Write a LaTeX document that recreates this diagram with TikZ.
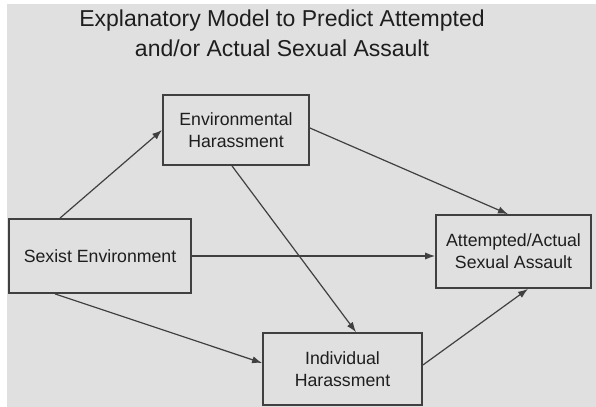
\documentclass[tikz,border=0pt]{standalone}
\usepackage{fontspec}
\setmainfont{Liberation Sans}
\usetikzlibrary{arrows.meta}

\definecolor{panelgray}{HTML}{E0E0E0}
\definecolor{linegray}{HTML}{404040}
\definecolor{textgray}{HTML}{1E1E1E}

\tikzset{
    modelbox/.style={draw=linegray, line width=0.9pt, fill=panelgray, text=textgray,
        align=center, inner sep=0pt, font=\fontsize{8.85}{11}\selectfont},
    path/.style={draw=linegray, line width=0.6pt, -{Latex[length=5pt,width=3.6pt]}}
}

\begin{document}
\begin{tikzpicture}[x=0.5pt, y=-0.5pt]
    \useasboundingbox (0,0) rectangle (596,407);
    % Background
    \fill[white] (0,0) rectangle (596,407);
    \fill[panelgray] (7,4) rectangle (596,407);

    % Title
    \node[text=textgray, align=center, font=\fontsize{11.5}{15}\selectfont] (title) at (282,33)
        {Explanatory Model to Predict Attempted\\and/or Actual Sexual Assault};

    % Boxes
    \node[modelbox, minimum width=73pt, minimum height=35pt] (envh) at (236,130)
        {Environmental\\Harassment};
    \node[modelbox, minimum width=91pt, minimum height=37pt] (sexenv) at (100,256)
        {Sexist Environment};
    \node[modelbox, minimum width=77.5pt, minimum height=36.5pt] (assault) at (513.5,251.5)
        {Attempted/Actual\\Sexual Assault};
    \node[modelbox, minimum width=79.5pt, minimum height=36pt] (indh) at (342.5,369)
        {Individual\\Harassment};

    % Paths
    \draw[path] ([xshift=-20pt]sexenv.north) -- (envh.west);
    \draw[path] ([xshift=-2pt]envh.south) -- ([xshift=6.75pt]indh.north);
    \draw[path] ([yshift=1pt]envh.east) -- ([xshift=-2.75pt]assault.north);
    \draw[path] (sexenv.east) -- (sexenv.east -| assault.west);
    \draw[path] ([xshift=-22.5pt]sexenv.south) -- ([yshift=3pt]indh.west);
    \draw[path] ([yshift=2pt]indh.east) -- ([xshift=7.25pt]assault.south);
\end{tikzpicture}
\end{document}
